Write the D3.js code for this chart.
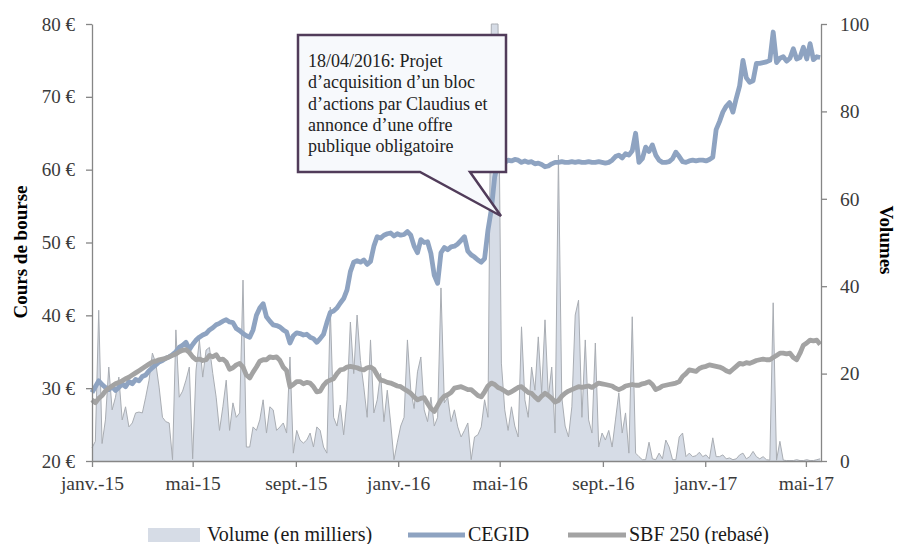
<!DOCTYPE html>
<html><head><meta charset="utf-8">
<script src="https://cdn.jsdelivr.net/npm/d3@7"></script>
<style>body{margin:0;background:#fff}svg{display:block}</style>
</head><body>
<svg id="c" width="899" height="544"></svg>
<script>
// ---- data (one sample every 4 calendar days from 2015-01-01) ----
const startDate = "2015-01-01";
const stepDays = 4;
const cegid = [29.4,30.2,31,30.5,30.1,29.8,30.2,29.7,30.1,30.6,30.2,30.9,30.6,31.2,31.0,31.6,31.8,32.4,32.8,33.2,33.6,33.8,34.1,34.3,34.6,35.0,35.6,35.9,36.3,35.3,36.0,36.6,37.0,37.3,37.5,38.0,38.3,38.7,38.9,39.2,39.4,39.1,39.0,38.2,37.9,37.5,37.2,37.0,38.0,40.0,41.0,41.6,39.8,39.2,38.7,38.6,38.4,38.0,37.7,36.2,37.2,37.6,37.5,37.3,37.4,37.0,36.8,36.3,36.8,37.4,39.0,40.4,40.6,41.0,41.7,42.3,43.5,46.0,47.3,47.5,47.3,47.6,47.0,47.4,49.5,50.8,50.6,51.0,51.2,51.3,50.9,51.2,51.0,51.1,51.5,51.0,49.5,48.6,50.4,50.0,50.1,48.5,45.5,44.4,48.6,49.3,49.0,49.4,49.5,49.8,50.3,50.8,48.8,48.3,48.0,47.6,47.3,47.8,51.7,54.5,59.0,61.0,61.2,61.0,61.3,61.2,61.4,61.3,61.0,61.2,61.0,61.1,60.8,60.9,60.7,60.4,60.5,60.8,61.0,61.0,61.1,61.0,61.0,61.1,61.0,61.1,61.0,61.0,61.1,61.0,61.0,61.1,61.0,60.9,61.0,61.3,61.8,62.0,61.6,62.2,62.0,62.6,65.0,61.0,61.5,63.1,62.5,63.4,62.0,61.3,61.0,61.0,61.1,61.5,62.4,61.8,61.1,61.0,61.2,61.3,61.2,61.3,61.3,61.2,61.4,61.7,65.5,66.6,67.9,68.7,69.2,67.9,69.8,71.5,75.0,72.6,72.0,72.2,74.6,74.6,74.7,74.8,75.0,78.9,74.7,75.3,75.5,74.9,75.3,76.6,75.2,75.4,76.8,75.2,77.3,75.1,75.5,75.4];
const sbf250 = [28.4,28.0,28.6,29.0,29.6,30.0,30.3,30.6,30.8,31.0,31.3,31.5,31.8,32.1,32.4,32.7,33.0,33.3,33.6,33.7,33.9,34.0,34.1,34.3,34.5,34.7,35.0,35.2,35.3,34.9,34.3,33.9,34.0,33.8,33.9,34.5,34.3,34.6,33.9,34.0,33.6,32.6,32.8,33.2,33.4,32.9,31.8,31.4,32.2,32.9,33.7,33.9,33.9,34.3,34.2,34.3,33.8,32.9,32.4,30.2,30.5,30.9,30.9,30.6,30.8,30.7,30.2,29.5,29.6,30.4,30.9,31.1,31.3,32.0,32.5,32.6,32.9,33.0,32.9,32.8,32.6,32.5,32.8,32.9,32.6,31.8,31.1,31.0,30.8,30.7,30.5,30.3,30.2,29.9,29.6,29.3,28.8,28.4,28.6,28.7,27.9,27.2,26.8,27.6,28.4,28.9,29.1,29.4,30.0,30.1,30.2,30.0,29.8,29.8,29.4,29.0,28.8,29.5,30.3,30.7,30.5,30.1,29.9,29.6,29.3,29.5,29.8,30.1,30.2,29.8,29.4,29.3,28.8,28.4,28.9,29.3,29.0,28.6,28.1,28.3,28.9,29.3,29.6,29.8,30.0,30.2,30.1,30.2,30.3,30.1,30.4,30.7,30.6,30.5,30.4,30.3,30.0,29.8,30.0,30.3,30.4,30.5,30.4,30.4,30.6,30.7,30.9,30.5,29.8,30.0,30.3,30.4,30.5,30.6,30.7,30.9,31.6,32.0,32.5,32.4,32.3,32.7,32.9,33.0,33.2,33.1,33.0,32.9,32.7,32.4,32.2,32.6,33.0,33.4,33.3,33.5,33.4,33.6,33.8,33.9,34.0,33.9,33.9,34.2,34.5,34.8,34.8,34.7,34.8,34.2,33.9,34.8,35.9,36.2,36.6,36.5,36.6,36.0];
const volume = [3,4.5,34.5,4,9.4,21.5,11.7,14.6,19.2,9.4,12.4,7.8,8.7,11,11.2,11,14.6,18.5,24.7,22.4,16.9,10,9,8.7,0.3,30,14.6,16,18.5,21.5,0.5,20.8,27.7,19.2,25.4,26,20,14.6,7,12.4,18.5,7,13.3,10,11,41.4,3.2,3.2,7.8,7,9.4,14,6.4,12.4,11.7,7,7.8,8.7,6.4,23.8,1.8,7,4.8,4.1,4.8,6.4,3.2,7.8,7,3.2,1.8,35.2,10,8,12.8,6,14,31.8,20,33.4,23,16.9,10,27.7,11,14,20.1,9,16.2,8.7,0.3,4.3,8,10,27.7,16.2,12,20.4,23.8,11.7,9,14.6,8,10,39.6,13.3,14.6,9,11.7,7.8,5.5,7,8.7,0.3,5.5,6,7.8,14,10,100,100,100,22.4,11.7,7,12.4,8,5.5,30.7,14,10,21.5,16.2,28.4,15.6,32.3,14.6,21.5,6.4,70,14.6,8,5.5,12.4,33.4,36.8,10,27.7,9.4,6.4,27,3.2,6.4,4.8,7,3.2,9.4,15.6,6.4,11,1.8,33,1.8,1,0.3,0.3,4.3,0.5,0.3,1.8,0.5,4.8,3.2,0.3,0.3,5.5,6.4,1,1.8,1,1.2,2,1,1.4,0.5,5.3,1,1,1.4,0.5,0.7,0.3,0.5,1.4,1.8,0.5,1,2.2,1,0.5,1,0.3,0.2,36.2,0.2,4.5,0.2,0.1,0.1,0.1,0.3,0.1,0.1,0.3,0.1,0.1,0.3,0.5];
const xDomain = ["2015-01-01", "2017-05-19"];
const tickDates = ["2015-01-01","2015-05-01","2015-09-01","2016-01-01","2016-05-01","2016-09-01","2017-01-01","2017-05-01"];
const tickLabels = ["janv.-15","mai-15","sept.-15","janv.-16","mai-16","sept.-16","janv.-17","mai-17"];
const priceTicks = [20,30,40,50,60,70,80];
const volumeTicks = [0,20,40,60,80,100];
const seriesNames = ["Volume (en milliers)", "CEGID", "SBF 250 (rebasé)"];
const calloutLines = ["18/04/2016: Projet","d\u2019acquisition d\u2019un bloc","d\u2019actions par Claudius et","annonce d\u2019une offre","publique obligatoire"];

// ---- drawing ----
const parse = d3.utcParse("%Y-%m-%d");
const start = parse(startDate);
const dates = cegid.map((_, i) => d3.utcDay.offset(start, i * stepDays));
const svg = d3.select("#c");
const font = "'Liberation Serif', 'DejaVu Serif', serif";
const L = 92, R = 821, T = 24, B = 461;
const x = d3.scaleUtc().domain(xDomain.map(parse)).range([L, R]);
const yP = d3.scaleLinear().domain([20, 80]).range([B, T]);
const yV = d3.scaleLinear().domain([0, 100]).range([B, T]);
const axisCol = "#868686", txtCol = "#3a3a3a";
const cBlue = "#8ea3c1", cGrey = "#a3a3a3", volFill = "#d6dce6", volLine = "#a9adb3";

// volume area
const vdata = volume.map((v, i) => ({d: d3.utcDay.offset(start, i * stepDays), v}));
svg.append("path").datum(vdata)
  .attr("d", d3.area().x(d => x(d.d)).y0(yV(0)).y1(d => yV(d.v)))
  .attr("fill", volFill);
svg.append("path").datum(vdata)
  .attr("d", d3.line().x(d => x(d.d)).y(d => yV(d.v)))
  .attr("fill", "none").attr("stroke", volLine).attr("stroke-width", 1);

// price lines
const line = d3.line().x((d, i) => x(dates[i])).y(d => yP(d));
svg.append("path").datum(cegid).attr("d", line)
  .attr("fill", "none").attr("stroke", cBlue).attr("stroke-width", 4.8).attr("stroke-linejoin", "round");
svg.append("path").datum(sbf250).attr("d", line)
  .attr("fill", "none").attr("stroke", cGrey).attr("stroke-width", 4.8).attr("stroke-linejoin", "round");

// axes
function styleAxis(g, size) {
  g.selectAll("path,line").attr("stroke", axisCol).attr("stroke-width", 1.3);
  g.selectAll("text").attr("fill", txtCol).style("font-family", font).style("font-size", size + "px");
}
const gl = svg.append("g").attr("transform", `translate(${L},0)`)
  .call(d3.axisLeft(yP).tickValues(priceTicks).tickSize(6).tickSizeOuter(0).tickPadding(11).tickFormat(d => d + " \u20AC"));
styleAxis(gl, 19);
const gr = svg.append("g").attr("transform", `translate(${R},0)`)
  .call(d3.axisRight(yV).tickValues(volumeTicks).tickSize(6).tickSizeOuter(0).tickPadding(13));
styleAxis(gr, 19.5);
const gb = svg.append("g").attr("transform", `translate(0,${B})`)
  .call(d3.axisBottom(x).tickValues(tickDates.map(parse)).tickSize(6).tickSizeOuter(0).tickPadding(9)
    .tickFormat((d, i) => tickLabels[i]));
styleAxis(gb, 19.5);

// axis titles
svg.append("text").attr("transform", "translate(27,252) rotate(-90)").attr("text-anchor", "middle")
  .style("font-family", font).style("font-size", "19px").style("font-weight", "bold").text("Cours de bourse");
svg.append("text").attr("transform", "translate(880,240) rotate(90)").attr("text-anchor", "middle")
  .style("font-family", font).style("font-size", "19px").style("font-weight", "bold").text("Volumes");

// legend
const lg = svg.append("g").style("font-family", font).style("font-size", "20px").attr("fill", "#1a1a1a");
lg.append("rect").attr("x", 148).attr("y", 528).attr("width", 52).attr("height", 14).attr("fill", volFill);
lg.append("text").attr("x", 207).attr("y", 541).text(seriesNames[0]);
lg.append("line").attr("x1", 408).attr("x2", 465).attr("y1", 535).attr("y2", 535).attr("stroke", cBlue).attr("stroke-width", 4.8);
lg.append("text").attr("x", 468).attr("y", 541).text(seriesNames[1]);
lg.append("line").attr("x1", 568).attr("x2", 626).attr("y1", 535).attr("y2", 535).attr("stroke", cGrey).attr("stroke-width", 4.8);
lg.append("text").attr("x", 629).attr("y", 541).text(seriesNames[2]);

// callout
const cg = svg.append("g");
cg.append("path")
  .attr("d", "M298,35 L506,35 L506,172 L470,172 L501,216 L420,172 L298,172 Z")
  .attr("fill", "#f7f9fc").attr("stroke", "#513c5a").attr("stroke-width", 2.5).attr("stroke-linejoin", "miter");
cg.append("g").selectAll("text").data(calloutLines).join("text")
  .attr("x", 308).attr("y", (d, i) => 67 + i * 21.3)
  .style("font-family", font).style("font-size", "18px").attr("fill", "#222").text(d => d);
</script>
</body></html>
